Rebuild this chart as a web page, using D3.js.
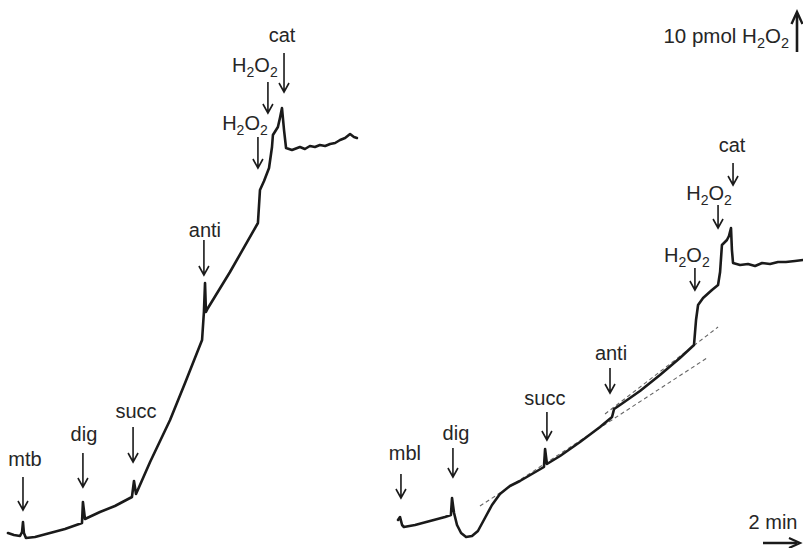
<!DOCTYPE html>
<html><head><meta charset="utf-8">
<script src="https://cdn.jsdelivr.net/npm/d3@7"></script>
<style>html,body{margin:0;padding:0;background:#fff;}svg{display:block;}</style>
</head><body>
<svg id="c" width="803" height="548"></svg>
<script>
// ---- Data (time in min, signal in pmol H2O2) ----
const leftTime = [0,0.32,0.65,0.76,0.81,0.86,0.97,1.46,2.27,3.08,4.0,4.05,4.16,4.97,5.78,6.7,6.81,6.92,7.68,8.76,9.57,10.49,10.59,10.65,10.7,10.81,12.0,13.51,13.62,13.84,14.11,14.27,14.32,14.59,14.7,14.81,14.92,15.03,15.35,15.78,16.05,16.32,16.59,16.86,17.14,17.41,17.68,17.95,18.22,18.49,18.7,18.86];
const leftSignal = [1.75,1.25,1.0,2.0,4.5,1.75,0.5,0.75,1.75,2.75,4.25,9.5,5.25,7.0,8.5,10.75,14.75,11.5,19.5,30,39.25,50,57,64.25,57,58,67,79.25,87.5,89.75,93,98.25,101.25,103.25,105.5,108,102.5,98,97.5,98.25,97.75,98.5,98.25,98.75,98.5,99,99.25,100,100.5,101.5,100.75,100.5];

const rightTime = [0,0.11,0.22,0.32,0.92,1.73,2.54,2.86,2.92,3.03,3.19,3.41,3.68,4.0,4.32,4.7,5.08,5.51,6.05,6.59,7.24,7.89,7.95,8.05,8.76,9.84,10.92,11.57,11.68,12.0,13.08,14.16,15.24,16.0,16.11,16.22,16.49,16.97,17.3,17.41,17.51,17.78,17.89,18.0,18.05,18.11,18.49,18.92,19.3,19.68,20.11,20.54,20.97,21.46,21.89];
const rightSignal = [5,5.75,3.75,3.25,3.75,4.75,5.75,6.25,10.5,6.75,3.75,1.75,0.75,1.0,2.25,5.5,8.75,11.5,13.5,14.75,16.5,18.25,22.75,19,21,24.5,28.25,30.75,32.75,33.75,37.25,41.25,45.5,48.75,55,58.75,60.5,62.5,63.75,67,73.75,75,76,78,72.5,69.25,68.75,69,68.5,69.25,69,69.5,69.5,69.75,70];

// dashed extrapolation lines (right trace)
const fitBeforeTime = [4.43, 16.7];
const fitBeforeSignal = [8.5, 45.5];
const fitAfterTime = [11.19, 17.3];
const fitAfterSignal = [31.5, 53.25];

// additions
const leftEventLabels = ["mtb","dig","succ","anti","H2O2","H2O2","cat"];
const leftEventTimes  = [0.81,4.05,6.76,10.59,13.51,14.05,14.92];
const rightEventLabels = ["mbl","dig","succ","anti","H2O2","H2O2","cat"];
const rightEventTimes  = [0.16,2.97,8.05,11.46,16.05,17.3,18.11];

// scale bars
const scaleAmount = 10;   // pmol
const scaleTime = 2;      // min

// ---- Layout ----
const svg = d3.select("#c");
const y = d3.scaleLinear().domain([0,135]).range([540,0]);
const xL = d3.scaleLinear().domain([0,19.3]).range([8, 8+19.3*18.5]);
const xR = d3.scaleLinear().domain([0,21.89]).range([398, 398+21.89*18.5]);

const FONT = "Liberation Sans, Arial, Helvetica, sans-serif";
const INK = "#1a1a1a";
const TXT = "#262626";

function drawTrace(times, vals, x){
  const line = d3.line().x(d=>x(d[0])).y(d=>y(d[1])).curve(d3.curveLinear);
  svg.append("path").datum(d3.zip(times, vals)).attr("d", line)
    .attr("fill","none").attr("stroke",INK).attr("stroke-width",2.6)
    .attr("stroke-linejoin","round").attr("stroke-linecap","round");
}
function drawFit(times, vals, x){
  const line = d3.line().x(d=>x(d[0])).y(d=>y(d[1]));
  svg.append("path").datum(d3.zip(times, vals)).attr("d", line)
    .attr("fill","none").attr("stroke","#666").attr("stroke-width",1.1)
    .attr("stroke-dasharray","4,3");
}
drawFit(fitBeforeTime, fitBeforeSignal, xR);
drawFit(fitAfterTime, fitAfterSignal, xR);
drawTrace(leftTime, leftSignal, xL);
drawTrace(rightTime, rightSignal, xR);

function label(g, text, cx, baseline, size){
  const t = g.append("text").attr("x",cx).attr("y",baseline)
    .attr("text-anchor","middle").attr("font-family",FONT)
    .attr("font-size",size).attr("fill",TXT);
  if(text === "H2O2"){
    t.append("tspan").text("H");
    t.append("tspan").text("2").attr("font-size",size*0.7).attr("dy",5);
    t.append("tspan").text("O").attr("dy",-5);
    t.append("tspan").text("2").attr("font-size",size*0.7).attr("dy",5);
  } else t.text(text);
  return t;
}
function downArrow(g, x0, yTip, len){
  g.append("path")
    .attr("d",`M${x0},${yTip-len}L${x0},${yTip}M${x0-5},${yTip-9}L${x0},${yTip}L${x0+5},${yTip-9}`)
    .attr("fill","none").attr("stroke",INK).attr("stroke-width",1.6)
    .attr("stroke-linejoin","miter");
}

// annotation placement: arrow tip level (pmol), arrow length, label dx, label gap
const leftAnno = [
  {tip:7.5, len:33, dx:2, gap:11},
  {tip:13.25, len:34, dx:1, gap:12},
  {tip:19.5, len:35, dx:3, gap:9},
  {tip:66.25, len:35, dx:1, gap:3},
  {tip:93, len:31, dx:-13, gap:7},
  {tip:106.75, len:31, dx:-13, gap:10},
  {tip:112, len:39, dx:-2, gap:11}
];
const rightAnno = [
  {tip:10.5, len:24, dx:4, gap:14},
  {tip:15.75, len:29, dx:3, gap:8},
  {tip:25, len:28, dx:-2, gap:7},
  {tip:36.75, len:25, dx:1, gap:8},
  {tip:62.5, len:22, dx:-8, gap:6},
  {tip:78, len:23, dx:-9, gap:5},
  {tip:88.75, len:22, dx:-1, gap:11}
];
const g = svg.append("g");
leftEventLabels.forEach((l,i)=>{
  const a = leftAnno[i], px = xL(leftEventTimes[i]), tipY = y(a.tip);
  downArrow(g, px, tipY, a.len);
  label(g, l, px + a.dx, tipY - a.len - a.gap, 20);
});
rightEventLabels.forEach((l,i)=>{
  const a = rightAnno[i], px = xR(rightEventTimes[i]), tipY = y(a.tip);
  downArrow(g, px, tipY, a.len);
  label(g, l, px + a.dx, tipY - a.len - a.gap, 20);
});

// scale bar: 10 pmol H2O2 (vertical)
const sbX = 797, sbBottom = 52;
const sbLen = y(0) - y(scaleAmount);
g.append("path").attr("d",`M${sbX},${sbBottom}L${sbX},${sbBottom-sbLen+3}`)
  .attr("stroke",INK).attr("stroke-width",2.6).attr("fill","none");
g.append("path").attr("d",`M${sbX-5.5},${sbBottom-sbLen+12}L${sbX},${sbBottom-sbLen}L${sbX+5.5},${sbBottom-sbLen+12}`)
  .attr("stroke",INK).attr("stroke-width",2.4).attr("fill","none").attr("stroke-linejoin","miter");
const st = g.append("text").attr("x",789).attr("y",43).attr("text-anchor","end")
  .attr("font-family",FONT).attr("font-size",20.5).attr("fill",TXT);
st.append("tspan").text(scaleAmount + " pmol H");
st.append("tspan").text("2").attr("font-size",14.5).attr("dy",5);
st.append("tspan").text("O").attr("dy",-5);
st.append("tspan").text("2").attr("font-size",14.5).attr("dy",5);

// scale bar: 2 min (horizontal)
const tbRight = 800, tbY = 543;
const tbLen = xR(scaleTime) - xR(0);
g.append("path").attr("d",`M${tbRight-tbLen},${tbY}L${tbRight-3},${tbY}`)
  .attr("stroke",INK).attr("stroke-width",2.6).attr("fill","none");
g.append("path").attr("d",`M${tbRight-11},${tbY-5}L${tbRight},${tbY}L${tbRight-11},${tbY+5}`)
  .attr("stroke",INK).attr("stroke-width",2.2).attr("fill","none");
g.append("text").attr("x",773).attr("y",529).attr("text-anchor","middle")
  .attr("font-family",FONT).attr("font-size",20).attr("fill",TXT).text(scaleTime + " min");
</script>
</body></html>
